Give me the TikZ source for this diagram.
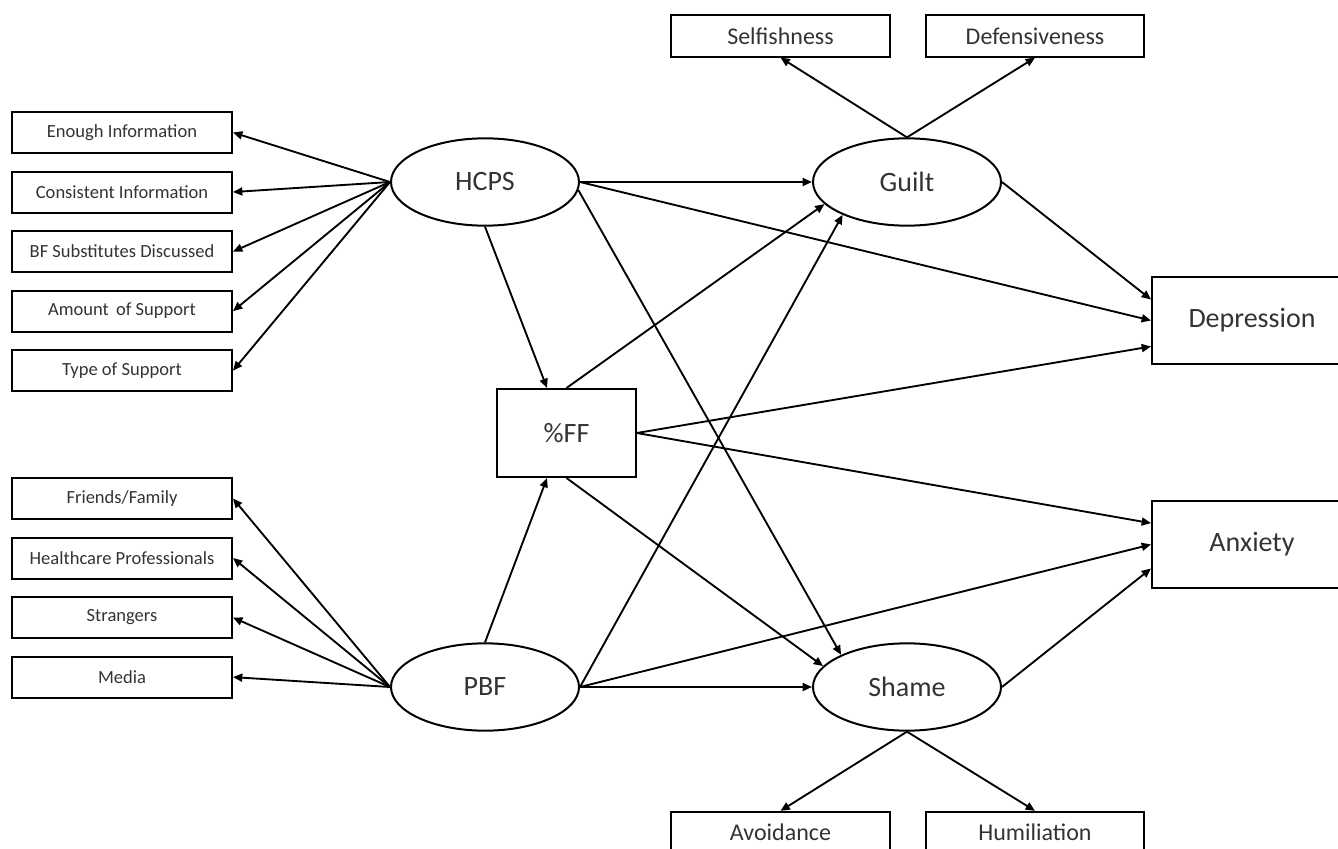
\documentclass[tikz,border=0pt]{standalone}
\usepackage{fontspec}
\setmainfont{Carlito}
\usepackage{tikz}
\usetikzlibrary{shapes.geometric, arrows.meta, positioning}

\begin{document}
\begin{tikzpicture}[x=0.75pt, y=-0.75pt,
        node distance=12.4pt,
        item/.style={draw, rectangle, line width=1.5pt, minimum width=165pt, minimum height=30.75pt, inner sep=0pt, text=black!80, font=\fontsize{13.9}{16}\selectfont},
        trait/.style={item, minimum width=164pt, minimum height=31pt, font=\fontsize{18}{21}\selectfont},
        factor/.style={draw, ellipse, line width=1.5pt, minimum width=141pt, minimum height=65.5pt, inner sep=0pt, text=black!80, font=\fontsize{21}{24}\selectfont},
        outcome/.style={draw, rectangle, line width=1.5pt, minimum width=150pt, minimum height=65.25pt, inner sep=0pt, text=black!80, font=\fontsize{21}{24}\selectfont},
        arrow/.style={line width=1.4pt, ->, >={Triangle[length=7pt, width=6pt]}}
    ]
    \useasboundingbox (0,0) rectangle (1338,849);

        \node[factor] (hcps) at (485,182) {HCPS};
        \node[factor] (pbf) at (485,687) {PBF};
        \node[outcome, minimum width=104pt, minimum height=66pt] (ff) at (566.5,433) {\%FF};
        \node[factor] (guilt) at (907,182) {Guilt};
        \node[factor] (shame) at (907,687) {Shame};
        \node[outcome] (dep) at (1252,320.5) {Depression};
        \node[outcome] (anx) at (1252,544.5) {Anxiety};

        \node[trait] (self) at (780.5,36) {Selfishness};
        \node[trait] (def) at (1035,36) {Defensiveness};
        \node[trait] (avoid) at (780.5,832.5) {Avoidance};
        \node[trait] (humil) at (1035,832.5) {Humiliation};

        \node[item] (enough) at (122,132.5) {Enough Information};
        \node[item, below=of enough] (consist) {Consistent Information};
        \node[item, below=of consist] (subst) {BF Substitutes Discussed};
        \node[item, below=of subst] (amount) {Amount\, of Support};
        \node[item, below=of amount] (kind) {Type of Support};

        \node[item] (friends) at (122,498.5) {Friends/Family};
        \node[item, below=of friends] (hcp) {Healthcare Professionals};
        \node[item, below=of hcp] (strangers) {Strangers};
        \node[item, below=of strangers] (media) {Media};

        \foreach \n in {enough, consist, subst, amount, kind}
            \draw[arrow] (hcps.west) -- (\n.east);
        \foreach \n in {friends, hcp, strangers, media}
            \draw[arrow] (pbf.west) -- (\n.east);

        \draw[arrow] (hcps.east) -- (guilt.west);
        \draw[arrow] (hcps.east) -- (dep.west);
        \draw[arrow] (hcps.-5) -- (shame.154);
        \draw[arrow] (hcps.south) -- ([xshift=-14.6pt]ff.north);

        \draw[arrow] (pbf.north) -- ([xshift=-14.6pt]ff.south);
        \draw[arrow] (pbf.east) -- (guilt.207);
        \draw[arrow] (pbf.east) -- (shame.west);
        \draw[arrow] (pbf.east) -- (anx.west);

        \draw[arrow] (ff.north) -- (guilt.195);
        \draw[arrow] (ff.south) -- (shame.166);
        \draw[arrow] (ff.east) -- ([yshift=-19.5pt]dep.west);
        \draw[arrow] (ff.east) -- ([yshift=16pt]anx.west);

        \draw[arrow] (guilt.east) -- ([yshift=15.75pt]dep.west);
        \draw[arrow] (shame.east) -- ([yshift=-18pt]anx.west);

        \draw[arrow] (guilt.north) -- (self.south);
        \draw[arrow] (guilt.north) -- (def.south);
        \draw[arrow] (shame.south) -- (avoid.north);
        \draw[arrow] (shame.south) -- (humil.north);
    \end{tikzpicture}
\end{document}
